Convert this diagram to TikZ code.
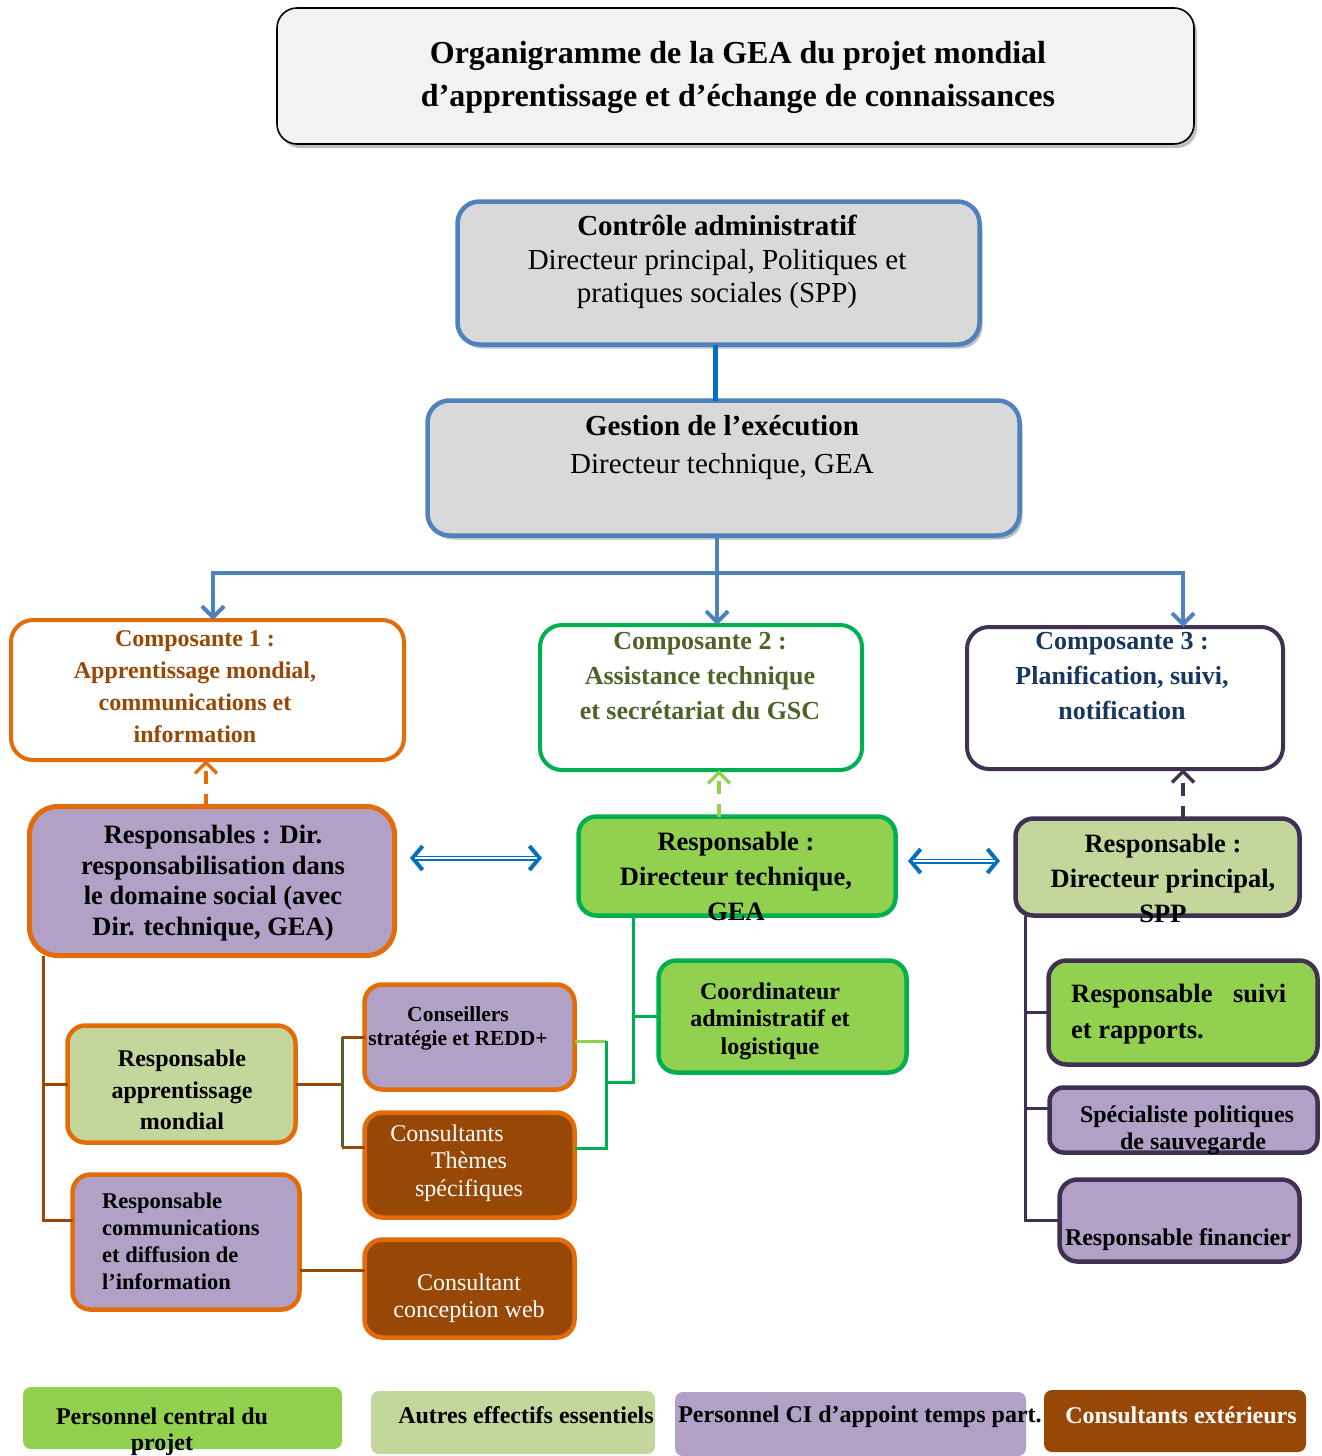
\documentclass[tikz,border=0pt]{standalone}
\usepackage{fontspec}
\setmainfont{Liberation Serif}
\usetikzlibrary{arrows.meta,shadows,calc}
\definecolor{blueborder}{HTML}{4F81BD}
\definecolor{blueline}{HTML}{0070C0}
\definecolor{grayfill}{HTML}{D9D9D9}
\definecolor{titlefill}{HTML}{F2F2F2}
\definecolor{orng}{HTML}{E36C09}
\definecolor{brwn}{HTML}{984806}
\definecolor{grn}{HTML}{00B050}
\definecolor{lgrn}{HTML}{92D050}
\definecolor{olivefill}{HTML}{C3D69B}
\definecolor{purplefill}{HTML}{B2A1C7}
\definecolor{dpurple}{HTML}{403152}
\definecolor{navy}{HTML}{17375E}
\definecolor{olivetext}{HTML}{4F6228}
\begin{document}
\begin{tikzpicture}[x=1pt,y=-1pt,
  box/.style={rounded corners=22pt, inner sep=0pt, outer sep=0pt, line width=4.5pt},
  sbox/.style={box, rounded corners=18pt},
  lbox/.style={rounded corners=8pt, inner sep=0pt, outer sep=0pt},
  shad/.style={drop shadow={shadow xshift=3pt, shadow yshift=-4pt, fill=black!50}},
  txt/.style={inner sep=0pt, align=center},
  bluetree/.style={draw=blueborder, line width=4pt},
  tipdown/.style={-{Straight Barb[length=11pt,width=22pt,line width=4pt]}},
  dashup/.style={line width=3.5pt, dash pattern=on 13pt off 10pt, -{Straight Barb[length=11pt,width=22pt,line width=3.5pt]}},
  dblout/.style={draw=blueline, line width=5pt,
     {Straight Barb[length=10pt,width=24pt,line width=4pt]}-{Straight Barb[length=10pt,width=24pt,line width=4pt]}},
  dblin/.style={draw=white, line width=1.4pt, shorten <=5pt, shorten >=5pt},
  brn/.style={draw=brwn, line width=3pt},
  grl/.style={draw=grn, line width=3pt},
  pul/.style={draw=dpurple, line width=3pt}
]
\useasboundingbox (0,0) rectangle (1322,1456);
\fill[white] (0,0) rectangle (1322,1456);

% ---------- title ----------
\node[lbox, rounded corners=20pt, draw=black, line width=1.6pt, fill=titlefill, shad,
      minimum width=917pt, minimum height=136pt] (title) at (735.5,76) {};
\node[txt, font=\fontsize{32}{43}\selectfont\bfseries] (titletxt) at (738,77)
  {Organigramme de la GEA du projet mondial\\d’apprentissage et d’échange de connaissances};

% ---------- top boxes ----------
\node[box, draw=blueborder, fill=grayfill, shad, minimum width=522pt, minimum height=143pt] (A) at (718.5,273) {};
\node[txt, font=\fontsize{29}{33.5}\selectfont] (Atxt) at (717,262)
  {{\bfseries Contrôle administratif}\\Directeur principal, Politiques et\\pratiques sociales (SPP)};

\node[box, draw=blueborder, fill=grayfill, shad, minimum width=592pt, minimum height=135pt] (B) at (723.5,468) {};
\node[txt, font=\fontsize{29}{38}\selectfont] (Btxt) at (722,447.5)
  {{\bfseries Gestion de l’exécution}\\Directeur technique, GEA};

% ---------- components ----------
\node[box, line width=4pt, draw=orng, fill=white, minimum width=393pt, minimum height=140pt] (C1) at (207.5,690) {};
\node[txt, text=brwn, font=\fontsize{24}{32}\selectfont\bfseries] (C1txt) at (195,687)
  {Composante 1 :\\Apprentissage mondial,\\communications et\\information};

\node[box, line width=4pt, draw=grn, fill=white, minimum width=322pt, minimum height=145pt] (C2) at (701,697.5) {};
\node[txt, text=olivetext, font=\fontsize{26}{35}\selectfont\bfseries] (C2txt) at (700,676.5)
  {Composante 2 :\\Assistance technique\\et secrétariat du GSC};

\node[box, line width=4pt, draw=dpurple, fill=white, minimum width=316pt, minimum height=142pt] (C3) at (1125,698) {};
\node[txt, text=navy, font=\fontsize{26}{35}\selectfont\bfseries] (C3txt) at (1122,676.5)
  {Composante 3 :\\Planification, suivi,\\notification};

% ---------- responsables ----------
\node[box, line width=5pt, rounded corners=28pt, draw=orng, fill=purplefill, minimum width=365pt, minimum height=149pt] (R1) at (212,881) {};
\node[txt, font=\fontsize{26.5}{30.7}\selectfont\bfseries] (R1txt) at (213,883)
  {Responsables : Dir.\\responsabilisation dans\\le domaine social (avec\\Dir. technique, GEA)};

\node[sbox, draw=grn, fill=lgrn, minimum width=317pt, minimum height=99pt] (R2) at (737,866) {};
\node[txt, font=\fontsize{26.5}{35}\selectfont\bfseries] (R2txt) at (736,876)
  {Responsable :\\Directeur technique,\\GEA};

\node[sbox, draw=dpurple, fill=olivefill, minimum width=284pt, minimum height=97pt] (R3) at (1157.5,867) {};
\node[txt, font=\fontsize{26.5}{35}\selectfont\bfseries] (R3txt) at (1163,878)
  {Responsable :\\Directeur principal,\\SPP};

% ---------- left tree ----------
\node[sbox, draw=orng, fill=olivefill, minimum width=228pt, minimum height=117pt] (RAM) at (181.5,1084) {};
\node[txt, font=\fontsize{24}{31.5}\selectfont\bfseries] (RAMtxt) at (182,1090)
  {Responsable\\apprentissage\\mondial};

\node[sbox, draw=orng, fill=purplefill, minimum width=227pt, minimum height=135pt] (RC) at (186,1242) {};
\node[txt, align=left, anchor=west, font=\fontsize{22.5}{27}\selectfont\bfseries] (RCtxt) at (102,1241)
  {Responsable\\communications\\et diffusion de\\l’information};

\node[sbox, draw=orng, fill=purplefill, minimum width=210pt, minimum height=105pt] (Cons) at (469.5,1037) {};
\node[txt, font=\fontsize{21.5}{24}\selectfont\bfseries] (Constxt) at (458,1028)
  {Conseillers\\stratégie et REDD+};

\node[sbox, draw=orng, fill=brwn, minimum width=210pt, minimum height=105pt] (CT) at (469.5,1165) {};
\node[txt, text=white, font=\fontsize{24}{27.5}\selectfont] (CTtxt) at (469,1163)
  {Consultants\hspace*{44pt}\\Thèmes\\spécifiques};

\node[sbox, draw=orng, fill=brwn, minimum width=210pt, minimum height=98pt] (CW) at (469.5,1288.5) {};
\node[txt, text=white, font=\fontsize{24}{27}\selectfont] (CWtxt) at (469,1298)
  {Consultant\\conception web};

% ---------- middle ----------
\node[sbox, draw=grn, fill=lgrn, minimum width=248pt, minimum height=112pt] (Coord) at (782.5,1016.5) {};
\node[txt, font=\fontsize{24}{27.5}\selectfont\bfseries] (Coordtxt) at (770,1021)
  {Coordinateur\\administratif et\\logistique};

% ---------- right tree ----------
\node[sbox, draw=dpurple, fill=lgrn, minimum width=269pt, minimum height=104pt] (RS) at (1183,1012.5) {};
\node[txt, align=left, anchor=west, font=\fontsize{26.5}{36}\selectfont\bfseries] (RStxt) at (1071,1014)
  {Responsable\hspace{14pt} suivi\\et rapports.};

\node[sbox, rounded corners=14pt, draw=dpurple, fill=purplefill, minimum width=268pt, minimum height=65pt] (SP) at (1183.5,1120) {};
\node[txt, font=\fontsize{24}{27}\selectfont\bfseries] (SPtxt) at (1187,1130.5)
  {Spécialiste politiques\\\hspace*{12pt}de sauvegarde};

\node[sbox, draw=dpurple, fill=purplefill, minimum width=240pt, minimum height=82pt] (RF) at (1179.5,1220.5) {};
\node[txt, font=\fontsize{24}{27}\selectfont\bfseries] (RFtxt) at (1178,1240)
  {Responsable financier};

% ---------- legend ----------
\node[lbox, fill=lgrn, minimum width=319pt, minimum height=62pt] (L1) at (182.5,1418) {};
\node[txt, font=\fontsize{24}{26}\selectfont\bfseries] (L1txt) at (162,1432)
  {Personnel central du\\projet};
\node[lbox, fill=olivefill, minimum width=284pt, minimum height=63pt] (L2) at (513,1422.5) {};
\node[txt, font=\fontsize{24}{26}\selectfont\bfseries] (L2txt) at (526,1415)
  {Autres effectifs essentiels};
\node[lbox, fill=purplefill, minimum width=351pt, minimum height=64pt] (L3) at (850.5,1424) {};
\node[txt, font=\fontsize{24}{26}\selectfont\bfseries] (L3txt) at (860,1417)
  {Personnel CI d’appoint temps part.};
\node[lbox, fill=brwn, minimum width=262pt, minimum height=62pt] (L4) at (1175,1421) {};
\node[txt, text=white, font=\fontsize{24}{26}\selectfont\bfseries] (L4txt) at (1181,1415)
  {Consultants extérieurs};

% ---------- connectors ----------
\coordinate (ab) at (715,0);
\draw[draw=blueline, line width=5pt] (A.south -| ab) -- (B.north -| ab);

\coordinate (jc) at (717,573);
\coordinate (jl) at (213,573);
\coordinate (jr) at (1183,573);
\draw[bluetree] (B.south -| jc) -- (jc);
\draw[bluetree] ([xshift=-2pt]jl) -- ([xshift=2pt]jr);
\draw[bluetree, tipdown] (jl) -- (jl |- C1.north);
\draw[bluetree, tipdown] (jc) -- (jc |- C2.north);
\draw[bluetree, tipdown] (jr) -- (jr |- C3.north);

\coordinate (d1) at (206,0);
\coordinate (d2) at (719,0);
\coordinate (d3) at (1183,0);
\draw[draw=orng, dashup] (R1.north -| d1) -- (C1.south -| d1);
\draw[draw=lgrn, dashup] (R2.north -| d2) -- (C2.south -| d2);
\draw[draw=dpurple, dashup] (R3.north -| d3) -- (C3.south -| d3);

\coordinate (da1) at (410,858);
\coordinate (da2) at (542,858);
\coordinate (db1) at (908,861);
\coordinate (db2) at (1000,861);
\draw[dblout] (da1) -- (da2);
\draw[dblin] (da1) -- (da2);
\draw[dblout] (db1) -- (db2);
\draw[dblin] (db1) -- (db2);

% left tree
\coordinate (t1) at (43,0);
\draw[brn] (R1.south -| t1) -- (t1 |- RAM.west) -- (t1 |- 0,1220) -- ($(RC.west)+(0,-22)$);
\draw[brn] (t1 |- RAM.west) -- (RAM.west);
\coordinate (b1) at (342,0);
\draw[brn] (RAM.east) -- (RAM.east -| b1);
\draw[draw=olivetext, line width=3pt] (b1 |- Cons.west) -- (b1 |- 0,1147);
\draw[brn] (b1 |- Cons.west) -- (Cons.west);
\draw[brn] (b1 |- 0,1147) -- ($(CT.west)+(0,-18)$);
\draw[brn] (RC.east |- 0,1270) -- (CW.west |- 0,1270);

% green bracket
\coordinate (g1) at (606,0);
\coordinate (g2) at (633,0);
\draw[draw=lgrn, line width=3pt] ($(Cons.east)+(0,4)$) -- (g1 |- 0,1041);
\draw[grl] (g1 |- 0,1041) -- (g1 |- 0,1148) -- ($(CT.east)+(0,-17)$);
\draw[grl] (g1 |- 0,1082) -- (g2 |- 0,1082) -- (R2.south -| g2);
\draw[grl] (g2 |- Coord.west) -- (Coord.west);

% right tree
\coordinate (p1) at (1025,0);
\draw[pul] (R3.south -| p1) -- (p1 |- RF.west) -- (RF.west);
\draw[pul] (p1 |- RS.west) -- (RS.west);
\draw[pul] (p1 |- 0,1108) -- ($(SP.west)+(0,-12)$);
\end{tikzpicture}
\end{document}
